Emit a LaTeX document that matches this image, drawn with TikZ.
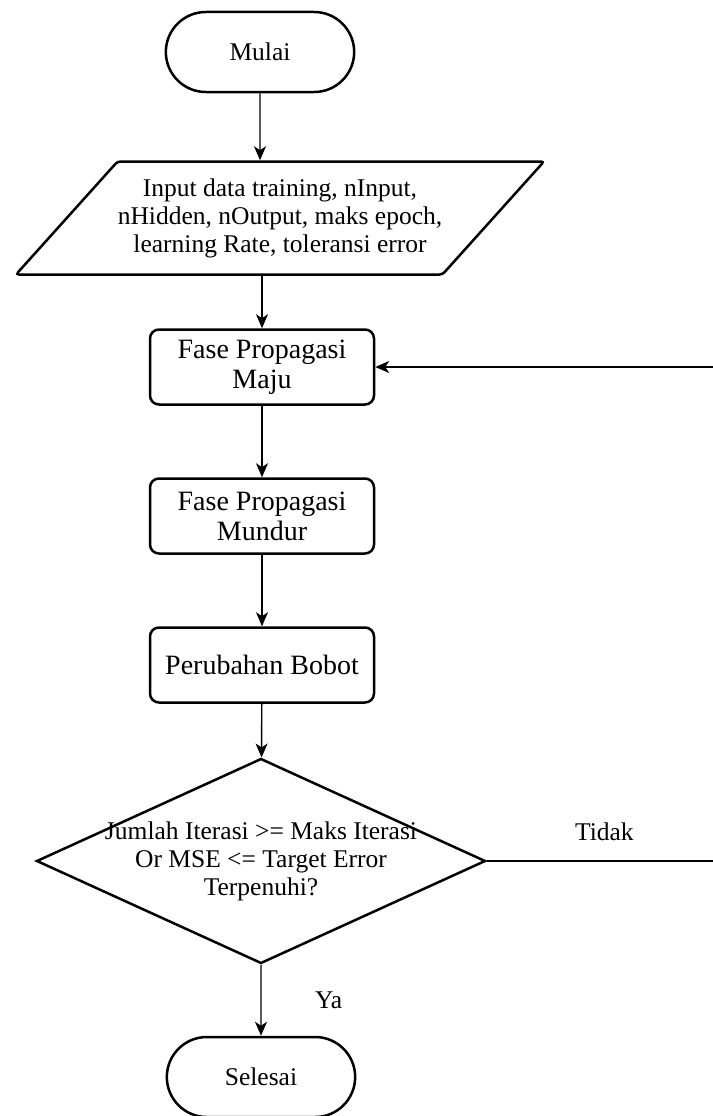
\documentclass[tikz,border=0pt]{standalone}
\usepackage{fontspec}
\setmainfont{Liberation Serif}
\usetikzlibrary{arrows.meta,shapes.geometric,shapes.misc,positioning,calc}

\begin{document}
\begin{tikzpicture}
[x=1pt,y=-1pt,
every node/.style={font=\fontsize{25.5}{28}\selectfont},
edge/.style={line width=1.4pt,-{Stealth[length=14pt,width=12pt,inset=4pt]}},
terminal/.style={rounded rectangle,draw,line width=2.5pt,minimum width=195pt,minimum height=80pt},
io/.style={trapezium,trapezium left angle=44,trapezium right angle=136,trapezium stretches=true,
draw,line width=2.5pt,rounded corners=3pt,minimum width=531pt,minimum height=113pt,align=center,inner xsep=-20pt},
process/.style={rectangle,draw,line width=2.5pt,rounded corners=9pt,minimum width=224pt,minimum height=75pt,
align=center,inner xsep=0pt,font=\fontsize{28}{30}\selectfont},
decision/.style={diamond,draw,line width=2.5pt,aspect=2.19,minimum width=449pt,minimum height=205pt,
align=center,inner xsep=-40pt,inner ysep=0pt}]

\useasboundingbox (0,0) rectangle (712,1116);

\node[terminal] (mulai) at (260,52) {Mulai};
\node[io] (input) at (280,218) {Input data training, nInput,\\ nHidden, nOutput, maks epoch,\\ learning Rate, toleransi error};
\node[process] (maju) at (262,367) {Fase Propagasi\\ Maju};
\node[process] (mundur) at (262,516) {Fase Propagasi\\ Mundur};
\node[process] (bobot) at (262,665) {Perubahan Bobot};
\node[decision] (cek) at (261,861) {Jumlah Iterasi >= Maks Iterasi\\ Or MSE <= Target Error\\ Terpenuhi?};
\node[terminal] (selesai) at (261,1077) {Selesai};

%% main flow
\draw[edge] (mulai) -- (input.north -| mulai);
\draw[edge] (input.south -| maju) -- (maju);
\draw[edge] (maju) -- (mundur);
\draw[edge] (mundur) -- (bobot);
\draw[edge] (bobot) -- (cek);
\draw[edge] (cek) -- node[right=50pt] (ya) {Ya} (selesai);

%% loop back (runs off the right edge)
\coordinate (loop) at (722,861);
\draw[edge] (cek.east) -- node[above=16pt] (tidak) {Tidak} (loop) |- (maju.east);

\end{tikzpicture}
\end{document}
